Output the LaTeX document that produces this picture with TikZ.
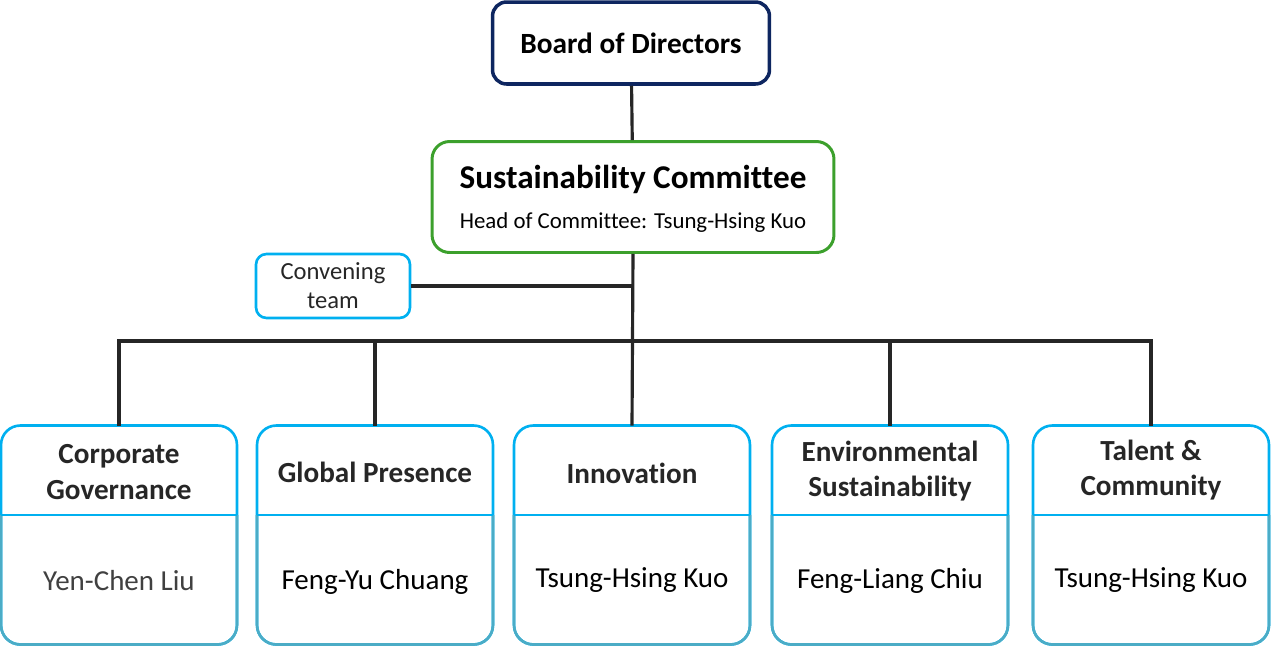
\documentclass[tikz,border=0pt]{standalone}
\usepackage{fontspec}
\setmainfont{Carlito}[Ligatures=NoCommon]
\usetikzlibrary{positioning}
\definecolor{boardblue}{HTML}{0E2660}
\definecolor{comgreen}{HTML}{3CA02C}
\definecolor{teamcyan}{HTML}{00B0F0}
\definecolor{lowteal}{HTML}{4BACC6}
\definecolor{linegray}{HTML}{262626}
\definecolor{textgray}{HTML}{262626}
\tikzset{
  board/.style={draw=boardblue, line width=2pt, rounded corners=8pt, fill=white,
    minimum width=5.54cm, minimum height=1.64cm, font=\bfseries\fontsize{16.7}{20}\selectfont},
  committee/.style={draw=comgreen, line width=1.7pt, rounded corners=10pt,
    minimum width=8.04cm, minimum height=2.22cm},
  team/.style={draw=teamcyan, line width=1.5pt, rounded corners=6pt, align=center,
    minimum width=3.08cm, minimum height=1.28cm, font=\fontsize{14}{16.5}\selectfont, text=textgray},
  unit/.style={draw=teamcyan, line width=1.5pt, rounded corners=11pt, outer sep=0pt,
    minimum width=4.72cm, minimum height=4.38cm},
  head/.style={align=center, font=\bfseries\fontsize{16.6}{20}\selectfont, text=textgray},
  who/.style={font=\fontsize{16.5}{19}\selectfont},
  link/.style={draw=linegray, line width=1.8pt}
}
\begin{document}
\begin{tikzpicture}[x=0.02cm,y=-0.02cm]
        \useasboundingbox (0,0) rectangle (1271,647);

        % top of the chart
        \node[board] (board) at (631,43) {Board of Directors};
        \node[committee] (com) at (633,197) {};
        \node[font=\bfseries\fontsize{18.9}{22}\selectfont] (comtitle) at (633,179) {Sustainability Committee};
        \node[font=\fontsize{13}{15}\selectfont] (comhead) at (633,223) {Head of Committee: Tsung-Hsing Kuo};
        \node[team] (team) at (333,286) {Convening\\team};

        % five working groups
        \node[unit] (corp) at (119,535) {};
        \node[unit] (glob) at (375,535) {};
        \node[unit] (inno) at (632,535) {};
        \node[unit] (envi) at (890,535) {};
        \node[unit] (tal) at (1151,535) {};

        \node[head] (corphead) at (119,472) {Corporate\\Governance};
        \node[head] (globhead) at (375,472) {Global Presence};
        \node[head] (innohead) at (632,473) {Innovation};
        \node[head] (envihead) at (890,471) {Environmental\\Sustainability};
        \node[head] (talhead) at (1151,470) {Talent \&\\Community};

        \node[who, text=black!75] (corpwho) at (119,581) {Yen-Chen Liu};
        \node[who] (globwho) at (375,582) {Feng-Yu Chuang};
        \node[who] (innowho) at (632,580) {Tsung-Hsing Kuo};
        \node[who] (enviwho) at (890,581) {Feng-Liang Chiu};
        \node[who] (talwho) at (1151,580) {Tsung-Hsing Kuo};

        % lower halves in teal, dividers in cyan
        \foreach \u in {corp,glob,inno,envi,tal}{
          \draw[lowteal, line width=1.5pt, rounded corners=11pt]
            (\u.west |- 0,515) |- (\u.south) -| (\u.east |- 0,515);
          \draw[teamcyan, line width=1.5pt] (\u.west |- 0,515) -- (\u.east |- 0,515);
        }

        % connectors
        \coordinate (bus) at (632,341);
        \draw[link] (board) -- (com);
        \draw[link] (com.south) -- (inno.north);
        \draw[link] (team.east) -- (team.east -| com.south);
        \draw[link] (corp.north) -- (corp.north |- bus) -- (tal.north |- bus) -- (tal.north);
        \draw[link] (glob.north) -- (glob.north |- bus);
        \draw[link] (envi.north) -- (envi.north |- bus);
    \end{tikzpicture}
\end{document}
